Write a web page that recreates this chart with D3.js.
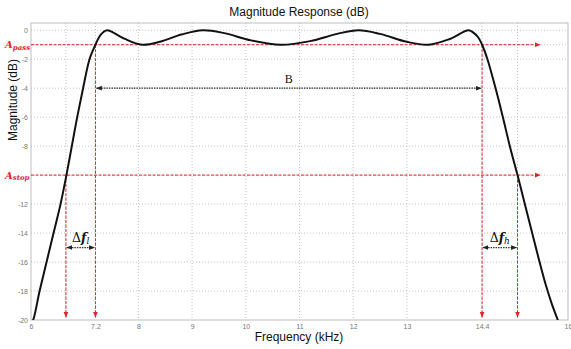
<!DOCTYPE html>
<html>
<head>
<meta charset="utf-8">
<script src="https://cdn.jsdelivr.net/npm/d3@7"></script>
<style>
  body { margin: 0; background: #fff; }
  svg { display: block; font-family: "Liberation Sans", Arial, sans-serif; }
</style>
</head>
<body>
<svg></svg>
<script>
// filter magnitude response
let freqKHz = [5.98, 6.04, 6.16, 6.29, 6.42, 6.55, 6.66, 6.76, 6.86, 6.97, 7.09, 7.20, 7.30, 7.42,
    7.55, 7.75, 8.07, 8.40, 8.80, 9.20, 9.60, 10.10, 10.65, 11.20, 11.70, 12.10, 12.50, 13.00,
    13.40, 13.80, 14.15, 14.25, 14.33, 14.40, 14.50, 14.60, 14.70, 14.80, 14.93, 15.06, 15.19,
    15.32, 15.45, 15.58, 15.70, 15.81, 15.86];
let magDB = [-20.4, -20, -18, -16, -14, -12, -10, -8, -6, -4, -2, -1, -0.3, 0,
    -0.2, -0.6, -1, -0.8, -0.3, 0, -0.2, -0.7, -1, -0.75, -0.25, 0, -0.25, -0.8,
    -1, -0.6, 0, -0.2, -0.5, -1, -2, -3.3, -4.7, -6.2, -8.2, -10, -11.9,
    -13.8, -15.7, -17.5, -18.9, -20, -20.5];

let xTickValues = [6, 6.65, 7.2, 8, 9, 10, 11, 12, 13, 14.4, 15.06, 16];
let xTickLabels = ["6", "", "7.2", "8", "9", "10", "11", "12", "13", "14.4", "", "16"];
let yTickValues = [0, -1, -2, -4, -6, -8, -10, -12, -14, -16, -18, -20];
let yTickLabels = ["0", "", "-2", "-4", "-6", "-8", "", "-12", "-14", "-16", "-18", "-20"];

let fStopLow = 6.65, fPassLow = 7.2, fPassHigh = 14.4, fStopHigh = 15.06;
let aPass = -1, aStop = -10;
let lineEndKHz = 15.48;   // where the red level arrows stop
let bandLevel = -4, deltaLevel = -15;

let width = 571,
    height = 349;
let margin = {top: 23, right: 3, bottom: 29, left: 31};

let svg = d3.select("svg")
    .attr("width", width)
    .attr("height", height);

svg.append("rect").attr("width", width).attr("height", height).attr("fill", "#fff");

let x = d3.scaleLinear().domain([6, 16]).range([margin.left, width - margin.right]);
let y = d3.scaleLinear().domain([-20, 0.5]).range([height - margin.bottom, margin.top]);

let red = "#e8202a";

let defs = svg.append("defs");
function marker(id, color, size) {
    defs.append("marker")
        .attr("id", id)
        .attr("viewBox", "0 0 10 10")
        .attr("refX", 9).attr("refY", 5)
        .attr("markerWidth", size).attr("markerHeight", size)
        .attr("markerUnits", "userSpaceOnUse")
        .attr("orient", "auto-start-reverse")
        .append("path").attr("d", "M0,1 L10,5 L0,9 Z").attr("fill", color);
}
marker("redArrow", red, 6);
marker("blkArrow", "#222", 6);

defs.append("clipPath").attr("id", "plotClip")
    .append("rect")
    .attr("x", margin.left).attr("y", margin.top)
    .attr("width", x(16) - x(6)).attr("height", y(-20) - y(0.5));

// grid
let grid = svg.append("g");
grid.selectAll(".vg").data(xTickValues.slice(1, -1)).enter().append("line")
    .attr("x1", d => x(d)).attr("x2", d => x(d))
    .attr("y1", y(0.5)).attr("y2", y(-20))
    .attr("stroke", "#b5b5b5").attr("stroke-width", 0.8).attr("stroke-dasharray", "1,2");
grid.selectAll(".hg").data(yTickValues.slice(0, -1)).enter().append("line")
    .attr("x1", x(6)).attr("x2", x(16))
    .attr("y1", d => y(d)).attr("y2", d => y(d))
    .attr("stroke", "#b5b5b5").attr("stroke-width", 0.8).attr("stroke-dasharray", "1,2");

// frame
svg.append("rect")
    .attr("x", x(6)).attr("y", y(0.5))
    .attr("width", x(16) - x(6)).attr("height", y(-20) - y(0.5))
    .attr("fill", "none").attr("stroke", "#bdbdbd").attr("stroke-width", 1);

// axes
let xAxis = svg.append("g")
    .attr("transform", `translate(0,${y(-20)})`)
    .call(d3.axisBottom(x).tickValues(xTickValues).tickSize(0).tickPadding(4)
        .tickFormat((d, i) => xTickLabels[i]));
xAxis.select(".domain").remove();
xAxis.selectAll("text").attr("fill", "#777").attr("font-size", 7);

let yAxis = svg.append("g")
    .attr("transform", `translate(${x(6)},0)`)
    .call(d3.axisLeft(y).tickValues(yTickValues).tickSize(0).tickPadding(3)
        .tickFormat((d, i) => yTickLabels[i]));
yAxis.select(".domain").remove();
yAxis.selectAll("text").attr("fill", "#777").attr("font-size", 7);

// red spec lines
let spec = svg.append("g").attr("stroke", red).attr("stroke-width", 1)
    .attr("stroke-dasharray", "3,1.5").attr("fill", "none");
[aPass, aStop].forEach(a => {
    spec.append("line")
        .attr("x1", x(6)).attr("x2", x(lineEndKHz))
        .attr("y1", y(a)).attr("y2", y(a))
        .attr("marker-end", "url(#redArrow)");
});
[[fStopLow, aStop], [fPassLow, aPass], [fPassHigh, aPass], [fStopHigh, aStop]].forEach(p => {
    spec.append("line")
        .attr("x1", x(p[0])).attr("x2", x(p[0]))
        .attr("y1", y(p[1])).attr("y2", y(-19.8))
        .attr("marker-end", "url(#redArrow)");
});

// dimension arrows
let dims = svg.append("g").attr("stroke", "#333").attr("stroke-width", 1.2)
    .attr("stroke-dasharray", "1.5,1");
function dimArrow(f0, f1, level) {
    dims.append("line")
        .attr("x1", x(f0) + 1).attr("x2", x(f1) - 1)
        .attr("y1", y(level)).attr("y2", y(level))
        .attr("marker-start", "url(#blkArrow)")
        .attr("marker-end", "url(#blkArrow)");
}
dimArrow(fPassLow, fPassHigh, bandLevel);
dimArrow(fStopLow, fPassLow, deltaLevel);
dimArrow(fPassHigh, fStopHigh, deltaLevel);

svg.append("text")
    .attr("x", x((fPassLow + fPassHigh) / 2)).attr("y", y(bandLevel) - 5)
    .attr("text-anchor", "middle")
    .attr("font-family", "'Liberation Serif', 'DejaVu Serif', serif")
    .attr("font-size", 12).attr("fill", "#111").text("B");

function deltaLabel(cx, sub) {
    let t = svg.append("text")
        .attr("x", cx).attr("y", y(deltaLevel) - 6)
        .attr("text-anchor", "middle")
        .attr("font-family", "'DejaVu Serif', serif")
        .attr("font-size", 12.5).attr("fill", "#111");
    t.append("tspan").text("\u0394");
    t.append("tspan").attr("font-style", "italic").attr("font-weight", "bold").text("f");
    t.append("tspan").attr("font-style", "italic").attr("font-size", 9).attr("dy", 2).text(sub);
}
deltaLabel(x((fStopLow + fPassLow) / 2), "l");
deltaLabel(x((fPassHigh + fStopHigh) / 2), "h");

// A_pass / A_stop labels
function levelLabel(level, sub) {
    let t = svg.append("text")
        .attr("x", 5).attr("y", y(level) + 3.5)
        .attr("font-family", "'DejaVu Serif', serif")
        .attr("font-style", "italic").attr("font-weight", "bold")
        .attr("font-size", 10).attr("fill", red);
    t.append("tspan").text("A");
    t.append("tspan").attr("font-size", 7).attr("dy", 1.5).text(sub);
}
levelLabel(aPass, "pass");
levelLabel(aStop, "stop");

// response curve
let line = d3.line()
    .x((d, i) => x(freqKHz[i]))
    .y(d => y(d))
    .curve(d3.curveCatmullRom.alpha(0.5));

svg.append("path")
    .attr("clip-path", "url(#plotClip)")
    .attr("d", line(magDB))
    .attr("fill", "none")
    .attr("stroke", "#111")
    .attr("stroke-width", 2);

// titles
svg.append("text")
    .attr("x", 299).attr("y", 16)
    .attr("text-anchor", "middle").attr("font-size", 12).attr("fill", "#111")
    .text("Magnitude Response (dB)");
svg.append("text")
    .attr("x", 299).attr("y", 341)
    .attr("text-anchor", "middle").attr("font-size", 12).attr("fill", "#111")
    .text("Frequency (kHz)");
svg.append("text")
    .attr("transform", "translate(17,100) rotate(-90)")
    .attr("text-anchor", "middle").attr("font-size", 12).attr("fill", "#111")
    .text("Magnitude (dB)");
</script>
</body>
</html>
